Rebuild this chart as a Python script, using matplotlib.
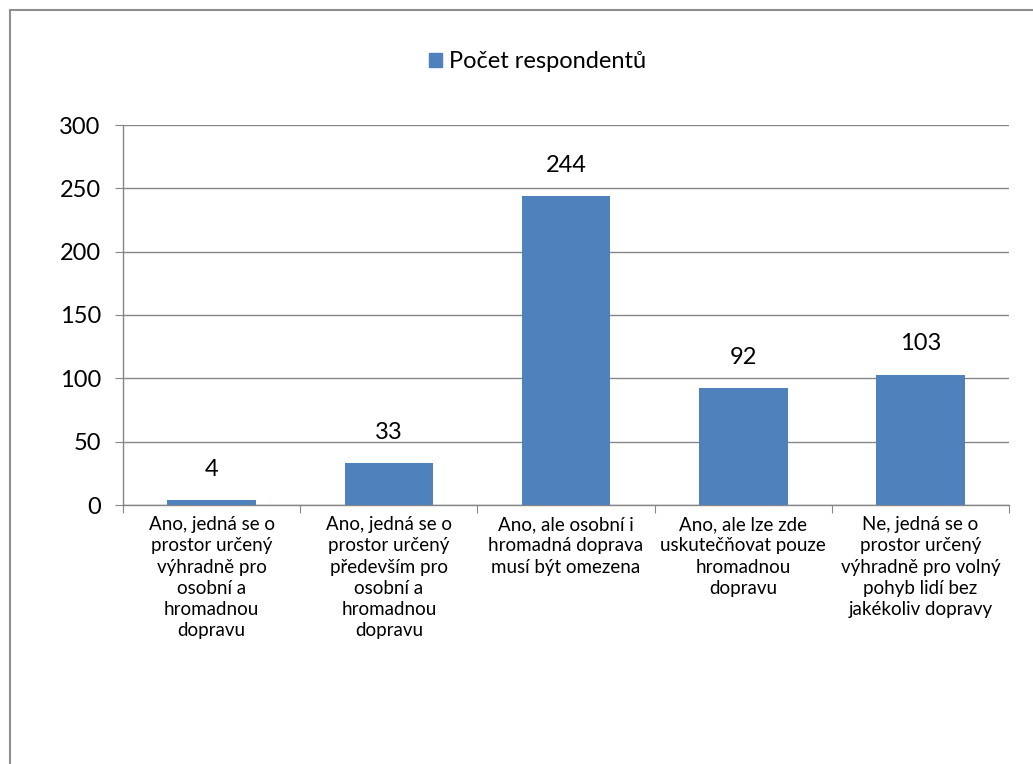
import numpy as np
import matplotlib
matplotlib.use("Agg")
import matplotlib.pyplot as plt
from matplotlib.lines import Line2D

categories = [
    "Ano, jedná se o\nprostor určený\nvýhradně pro\nosobní a\nhromadnou\ndopravu",
    "Ano, jedná se o\nprostor určený\npředevším pro\nosobní a\nhromadnou\ndopravu",
    "Ano, ale osobní i\nhromadná doprava\nmusí být omezena",
    "Ano, ale lze zde\nuskutečňovat pouze\nhromadnou\ndopravu",
    "Ne, jedná se o\nprostor určený\nvýhradně pro volný\npohyb lidí bez\njakékoliv dopravy",
]
values = [4, 33, 244, 92, 103]
series_name = "Počet respondentů"
y_ticks = [0, 50, 100, 150, 200, 250, 300]

bar_color = "#4F81BD"
line_gray = "#868686"

plt.rcParams["font.family"] = ["Lato", "DejaVu Sans"]

fig = plt.figure(figsize=(10.33, 7.64), dpi=100)
W, H = 1033, 764
ax = fig.add_axes([123 / W, 1 - 505 / H, (1009 - 123) / W, (505 - 125) / H])

x = np.arange(len(values))
ax.bar(x, values, width=0.5, color=bar_color, zorder=3)
ax.set_xlim(-0.5, len(values) - 0.5)
ax.set_ylim(0, 300)
ax.set_yticks(y_ticks)
ax.tick_params(axis="y", labelsize=17, length=6, color=line_gray, pad=10)
ax.yaxis.grid(True, color=line_gray, linewidth=1, zorder=0)

ax.set_xticks(np.arange(len(values) + 1) - 0.5)
ax.set_xticklabels([])
ax.set_xticks(x, minor=True)
ax.set_xticklabels(categories, minor=True, fontsize=13.5, linespacing=1.3, va="top")
ax.tick_params(axis="x", which="major", length=6, color=line_gray)
ax.tick_params(axis="x", which="minor", length=0, pad=8)

for s in ["top", "right"]:
    ax.spines[s].set_visible(False)
for s in ["left", "bottom"]:
    ax.spines[s].set_color(line_gray)
    ax.spines[s].set_linewidth(1)

for xi, v in zip(x, values):
    ax.annotate(str(v), (xi, v), xytext=(0, 22), textcoords="offset points",
                ha="center", va="center", fontsize=17)

handle = plt.Rectangle((0, 0), 1, 1, color=bar_color)
fig.legend([handle], [series_name], loc="center", bbox_to_anchor=(538 / W, 1 - 62 / H),
           frameon=False, fontsize=17, handlelength=0.55, handleheight=0.55,
           handletextpad=0.3)

# chart area border (only top and left visible in the crop)
fig.add_artist(Line2D([9.5 / W, 1], [1 - 9.5 / H, 1 - 9.5 / H], color="#8E8E8E", linewidth=1.5))
fig.add_artist(Line2D([9.5 / W, 9.5 / W], [0, 1 - 9.5 / H], color="#8E8E8E", linewidth=1.5))

plt.savefig("out.png", dpi=100)
plt.close()
